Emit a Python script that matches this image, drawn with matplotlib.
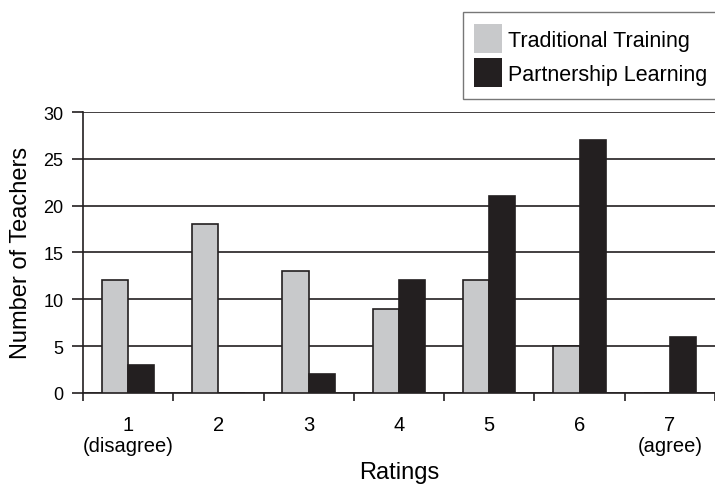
import matplotlib.pyplot as plt
import numpy as np

plt.rcParams['font.family'] = ['Liberation Sans', 'DejaVu Sans']

# Ratings and counts
ratings = ['1\n(disagree)', '2', '3', '4', '5', '6', '7\n(agree)']
traditional = [12, 18, 13, 9, 12, 5, 0]
partnership = [3, 0, 2, 12, 21, 27, 6]

fig = plt.figure(figsize=(7.15, 4.85), dpi=100)
ax = fig.add_axes([0.116, 0.188, 0.884, 0.579])

x = np.arange(len(ratings))
w = 0.29
ax.bar(x - w / 2, traditional, w, color='#c8c9cb', edgecolor='#231f20',
       linewidth=1.2, label='Traditional Training', zorder=3)
ax.bar(x + w / 2, partnership, w, color='#231f20', edgecolor='#231f20',
       linewidth=1.2, label='Partnership Learning', zorder=3)

ax.set_xlim(-0.5, len(ratings) - 0.5)
ax.set_ylim(0, 30)
ax.set_yticks(range(0, 31, 5))
ax.yaxis.grid(True, color='#231f20', linewidth=1.2, zorder=0)
ax.set_xticks(x)
ax.set_xticklabels(ratings, fontsize=14.5, linespacing=1.1)
ax.set_xticks(np.arange(-0.5, len(ratings)), minor=True)
ax.tick_params(axis='x', which='major', length=0, pad=16)
ax.tick_params(axis='x', which='minor', length=6, width=1.2, color='#231f20')
ax.tick_params(axis='y', length=8, width=1.2, color='#231f20', labelsize=13,
               pad=6)

for s in ['top', 'right']:
    ax.spines[s].set_visible(False)
for s in ['left', 'bottom']:
    ax.spines[s].set_linewidth(1.2)
    ax.spines[s].set_color('#231f20')

ax.set_xlabel('Ratings', fontsize=17, labelpad=5)
ax.set_ylabel('Number of Teachers', fontsize=17, labelpad=8)

leg = fig.legend(loc='upper left', bbox_to_anchor=(0.647, 0.973),
                 fontsize=15.5, frameon=True, fancybox=False,
                 handlelength=1.3, handleheight=1.72, handletextpad=0.25,
                 labelspacing=0.22, borderpad=0.55, borderaxespad=0)
leg.get_frame().set_edgecolor('#555555')
leg.get_frame().set_linewidth(1.0)
for h in leg.legend_handles:
    h.set_edgecolor('none')

fig.savefig('out.png', dpi=100)
